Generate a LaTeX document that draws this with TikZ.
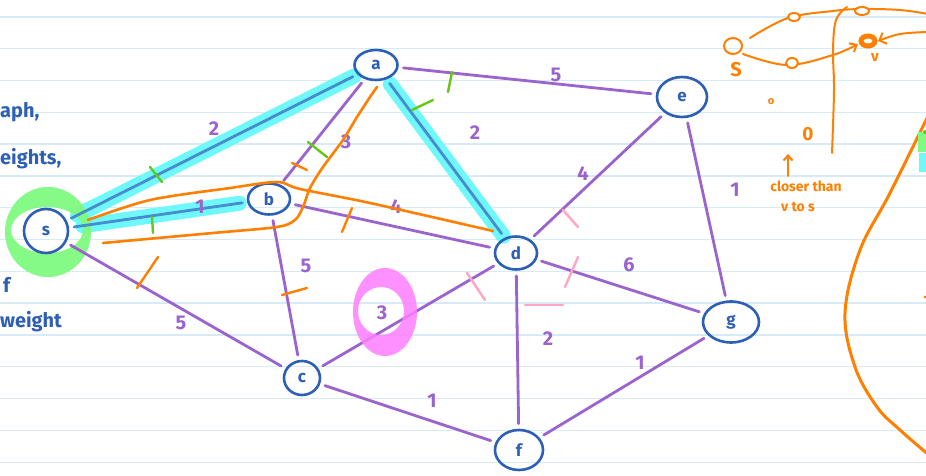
\documentclass[tikz,border=0pt]{standalone}
\usepackage{fontspec}
\setmainfont{Fira Sans}
\usetikzlibrary{shapes.geometric,arrows.meta}
\pgfdeclarelayer{paper}
\pgfdeclarelayer{marker}
\pgfsetlayers{paper,marker,main}
\definecolor{ruleblue}{RGB}{214,234,248}
\definecolor{edgepurple}{RGB}{155,100,205}
\definecolor{inkblue}{RGB}{45,95,180}
\definecolor{hilite}{RGB}{110,248,250}
\definecolor{hiline}{RGB}{72,140,205}
\definecolor{ringgreen}{RGB}{128,250,128}
\definecolor{tickgreen}{RGB}{100,200,20}
\definecolor{inkorange}{RGB}{255,128,0}
\definecolor{tickpink}{RGB}{255,165,200}
\definecolor{ringmagenta}{RGB}{255,125,255}
\begin{document}
\begin{tikzpicture}[x=1bp,y=-1bp,
  vtx/.style={ellipse, draw=inkblue, line width=2.6bp, inner sep=0pt,
    text=inkblue, font=\bfseries\fontsize{17}{17}\selectfont},
  edge/.style={draw=edgepurple, line width=2.8bp, line cap=round,
    shorten <=5bp, shorten >=5bp},
  hedge/.style={draw=hiline, line width=2.8bp, line cap=round,
    shorten <=5bp, shorten >=5bp},
  glow/.style={draw=hilite, line width=15bp, line cap=round},
  wt/.style={text=edgepurple, inner sep=0pt, font=\bfseries\fontsize{20}{20}\selectfont},
  gtick/.style={draw=tickgreen, line width=2.4bp, line cap=round},
  otick/.style={draw=inkorange, line width=2.4bp, line cap=round},
  ptick/.style={draw=tickpink, line width=2.4bp, line cap=round},
  oink/.style={draw=inkorange, line width=2.6bp, line cap=round, line join=round},
  otext/.style={text=inkorange, inner sep=0pt},
  note/.style={text=inkblue, inner sep=0pt, anchor=base west,
    font=\bfseries\fontsize{20}{20}\selectfont},
]
\useasboundingbox (0,0) rectangle (926,476);
\clip (0,0) rectangle (926,476);

% ruled paper
\begin{pgfonlayer}{paper}
  \fill[white] (0,0) rectangle (926,476);
  \foreach \k in {0,...,14}
    \draw[ruleblue, line width=1.4bp] (0,{17+31.8*\k}) -- (926,{17+31.8*\k});
\end{pgfonlayer}

% vertices
\node[vtx, minimum width=44bp, minimum height=44bp] (s) at (46,231) {s};
\node[vtx, minimum width=43bp, minimum height=30bp] (a) at (376,65) {a};
\node[vtx, minimum width=42bp, minimum height=31bp] (b) at (269,199) {b};
\node[vtx, minimum width=36bp, minimum height=34bp] (c) at (302,378) {c};
\node[vtx, minimum width=42bp, minimum height=33bp] (d) at (516,253) {d};
\node[vtx, minimum width=50bp, minimum height=40bp] (e) at (682,97) {e};
\node[vtx, minimum width=48bp, minimum height=40bp] (f) at (519,450) {f};
\node[vtx, minimum width=56bp, minimum height=41bp] (g) at (731,322) {g};

% highlighted shortest-path edges
\begin{pgfonlayer}{marker}
  \draw[glow, shorten <=12bp, shorten >=4bp] (s) -- (a);
  \draw[glow, shorten <=14bp, shorten >=8bp] (s) -- (b);
  \draw[glow, shorten <=6bp, shorten >=2bp] (a) -- (d);
  % green ring round the source
  \fill[ringgreen, even odd rule, opacity=0.95]
    (48,232) ellipse [x radius=43, y radius=45]
    (47,230) ellipse [x radius=36, y radius=23];
\end{pgfonlayer}

% edges
\draw[hedge] (s) -- (a);
\draw[hedge] (s) -- (b);
\draw[hedge] (a) -- (d);
\draw[edge] (s) -- (c);
\draw[edge] (b) -- (a);
\draw[edge] (b) -- (d);
\draw[edge] (b) -- (c);
\draw[edge] (a) -- (e);
\draw[edge] (d) -- (e);
\draw[edge] (e) -- (g);
\draw[edge] (d) -- (g);
\draw[edge] (d) -- (c);
\draw[edge] (d) -- (f);
\draw[edge] (c) -- (f);
\draw[edge] (f) -- (g);

% magenta ring round the weight of c--d
\fill[ringmagenta, even odd rule, opacity=0.85]
  (385,312) ellipse [x radius=32, y radius=44]
  (381,311) ellipse [x radius=23, y radius=24];

% weights
\node[wt] (wsa) at (214,129) {2};
\node[wt] (wsb) at (200,207) {1};
\node[wt] (wsc) at (181,323) {5};
\node[wt] (wba) at (346,142) {3};
\node[wt] (wbd) at (396,207) {4};
\node[wt] (wbc) at (306,266) {5};
\node[wt] (wae) at (556,75) {5};
\node[wt] (wad) at (475,133) {2};
\node[wt] (wed) at (583,174) {4};
\node[wt] (weg) at (735,190) {1};
\node[wt] (wdg) at (629,265) {6};
\node[wt] (wdc) at (382,313) {3};
\node[wt] (wdf) at (548,339) {2};
\node[wt] (wcf) at (432,401) {1};
\node[wt] (wfg) at (640,363) {1};

% settled / relaxed tick marks
\draw[gtick] (150,167) -- (162,182);
\draw[gtick] (152,217) -- (153,233);
\draw[gtick] (308,142) -- (327,157);
\draw[gtick] (448,92) -- (452,72);
\draw[gtick] (412,110) -- (433,100);
\draw[otick] (137,288) -- (158,257);
\draw[otick] (282,295) -- (307,288);
\draw[otick] (292,163) -- (307,170);
\draw[otick] (342,232) -- (352,208);
\draw[ptick] (563,210) -- (578,227);
\draw[ptick] (467,273) -- (485,300);
\draw[ptick] (565,287) -- (578,257);
\draw[ptick] (525,305) -- (563,305);

% orange frontier strokes
\draw[oink] plot[smooth, tension=0.5] coordinates
  {(88,220) (150,200) (230,188) (277,182) (300,189) (370,203) (493,231)};
\draw[oink] plot[smooth, tension=0.5] coordinates
  {(103,243) (213,233) (277,227) (295,220) (303,207) (310,188) (323,167)
   (343,140) (357,117) (370,97) (377,87)};

% margin notes
\node[note] (n1) at (0,118) {aph,};
\node[note] (n2) at (0,165) {eights,};
\node[note] (n3) at (3,293) {f};
\node[note] (n4) at (0,328) {weight};

% sketch: two routes from s to v through the frontier
\draw[oink, line width=2bp] (733,46) ellipse [x radius=9, y radius=8];
\draw[oink, line width=2bp] plot[smooth, tension=0.6] coordinates
  {(750,38) (788,18) (833,11) (862,9) (900,10) (928,14)};
\draw[oink, line width=2bp, -{Straight Barb[length=6bp, width=10bp]}]
  plot[smooth, tension=0.6] coordinates {(743,54) (787,65) (833,55) (858,44)};
\draw[oink, line width=2bp, -{Straight Barb[length=6bp, width=12bp]}]
  plot[smooth, tension=0.6] coordinates {(928,32) (900,34) (878,41)};
\draw[oink, line width=2bp] plot[smooth, tension=0.6] coordinates
  {(847,7) (836,20) (833,50) (834,90) (832,153)};
\fill[white] (794,17) ellipse [x radius=6, y radius=4];
\draw[oink, line width=2bp] (794,17) ellipse [x radius=6, y radius=4];
\fill[white] (792,63) ellipse [x radius=6, y radius=5];
\draw[oink, line width=2bp] (792,63) ellipse [x radius=6, y radius=5];
\fill[white] (862,11) ellipse [x radius=7, y radius=4];
\draw[oink, line width=2bp] (862,11) ellipse [x radius=7, y radius=4];
\draw[inkorange, line width=5bp] (868,41) ellipse [x radius=7, y radius=5];
\node[otext, font=\bfseries\fontsize{20}{20}\selectfont] (ls) at (736,70) {S};
\node[otext, font=\bfseries\fontsize{15}{15}\selectfont] (lv) at (875,58) {v};
\node[otext, font=\bfseries\fontsize{11}{11}\selectfont] (lo) at (771,102) {o};
\node[otext, font=\bfseries\fontsize{19}{19}\selectfont] (lz) at (808,134) {0};
\draw[oink, line width=2bp, -{Straight Barb[length=5bp, width=9bp]}]
  (788,176) -- (788,154);
\node[otext, font=\bfseries\fontsize{14}{14}\selectfont] (lc1) at (806,186) {closer than};
\node[otext, font=\bfseries\fontsize{14}{14}\selectfont] (lc2) at (798,207) {v to s};
\draw[oink, line width=3bp] plot[smooth, tension=0.6] coordinates
  {(930,112) (890,193) (860,250) (845,313) (855,367) (877,407) (900,430) (930,456)};
\fill[ringgreen] (918,132) rectangle (927,152);
\fill[hilite] (919,153) rectangle (927,172);
\fill[tickgreen] (925,132) circle [radius=2];
\fill[inkorange] (925,297) circle [radius=1.5];
\end{tikzpicture}
\end{document}
